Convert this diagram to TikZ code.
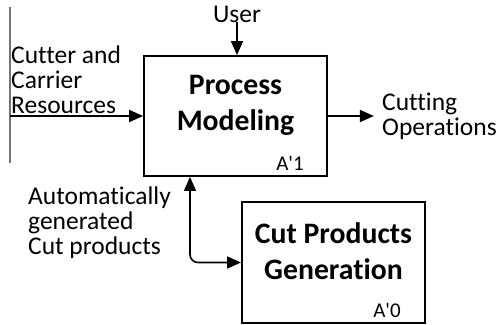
\documentclass[tikz,border=0pt]{standalone}
\usepackage{fontspec}
\setmainfont[Ligatures=CommonOff]{Carlito}
\usetikzlibrary{arrows.meta,calc}
\begin{document}
\begin{tikzpicture}[x=1pt,y=-1pt,
  box/.style={draw,line width=1.8pt,minimum width=183pt,minimum height=120pt,inner sep=0pt},
  title/.style={font=\fontsize{29.7}{36}\selectfont\bfseries,align=center,inner sep=0pt},
  lbl/.style={font=\fontsize{25.5}{25}\selectfont,align=left,inner sep=0pt},
  code/.style={font=\fontsize{21}{24}\selectfont,inner sep=0pt},
  tip/.style={Triangle[length=14pt,width=12pt]},
  arr/.style={line width=1.6pt,-{Triangle[length=14pt,width=12pt]}},
  darr/.style={line width=1.6pt,{Triangle[length=14pt,width=12pt]}-{Triangle[length=14pt,width=12pt]},rounded corners=8pt}]
\useasboundingbox (0,0) rectangle (498,324);
\node[box] (pm) at (235.5,116) {};
\node[title] (pmt) at ($(pm.center)+(0,-11)$) {Process\\Modeling};
\node[box,minimum height=121pt] (cpg) at (333.5,262.5) {};
\node[title] (cpgt) at ($(cpg.center)+(0,-11)$) {Cut Products\\Generation};
\node[code] (a1) at (290,163) {A\textquotesingle1};
\node[code] (a0) at (387,310) {A\textquotesingle0};
\node[lbl,anchor=center] (user) at (237,14) {User};
\node[lbl,anchor=west] (res) at (11,80) {Cutter and\\Carrier\\Resources};
\node[lbl,anchor=west] (ops) at (382,116) {Cutting\\Operations};
\node[lbl,anchor=west] (auto) at (28,223) {Automatically\\generated\\Cut products};
\coordinate (vt) at (10,7);
\coordinate (vb) at (10,163);
\coordinate (in) at (10,116);
\coordinate (dx) at (190,0);
\draw[line width=1.2pt,black!55] (vt) -- (vb);
\draw[arr] (in) -- (pm.west);
\draw[arr] (user.south) -- (user.south |- pm.north);
\draw[arr] (pm.east) -- ++(46,0) coordinate (out);
\draw[darr] (pm.south -| dx) |- (cpg.west);
\end{tikzpicture}
\end{document}
